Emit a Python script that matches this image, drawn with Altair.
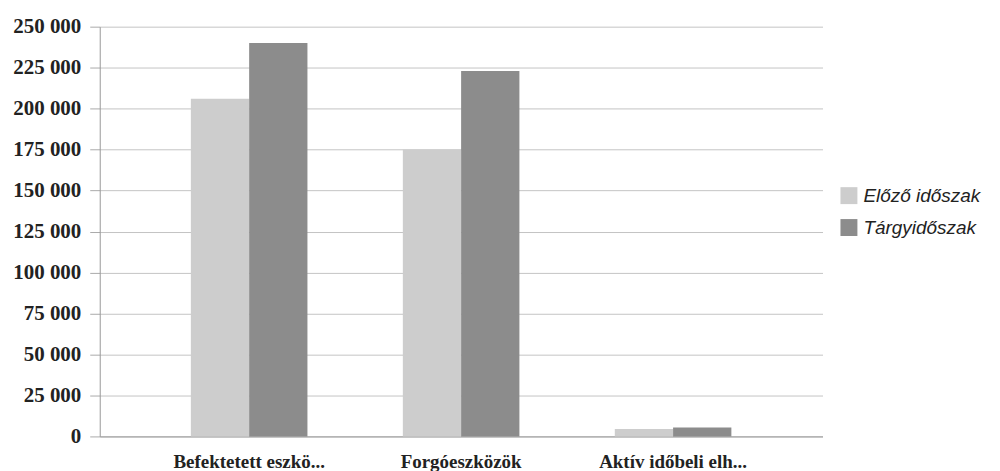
import altair as alt
import pandas as pd

categories = ["Befektetett eszkö...", "Forgóeszközök", "Aktív időbeli elh..."]
series = ["Előző időszak", "Tárgyidőszak"]
elozo = [206000, 175000, 4500]
targy = [240000, 223000, 5500]
y_ticks = [0, 25000, 50000, 75000, 100000, 125000, 150000, 175000, 200000, 225000, 250000]

rows = []
for c, a, b in zip(categories, elozo, targy):
    rows.append({"cat": c, "series": series[0], "value": a})
    rows.append({"cat": c, "series": series[1], "value": b})
df = pd.DataFrame(rows)

chart = alt.Chart(df).mark_bar().encode(
    x=alt.X("cat:N", sort=categories, title=None,
            scale=alt.Scale(paddingInner=0.45, paddingOuter=0.43),
            axis=alt.Axis(labelAngle=0, labelFont="Liberation Serif", labelFontWeight="bold",
                          labelFontSize=19, labelColor="#222", labelPadding=16,
                          domainColor="#999", ticks=False, grid=False)),
    xOffset=alt.XOffset("series:N", sort=series),
    y=alt.Y("value:Q", title=None,
            scale=alt.Scale(domain=[0, 250000], nice=False),
            axis=alt.Axis(values=y_ticks, labelExpr="join(split(format(datum.value, ','), ','), ' ')",
                          labelFont="Liberation Serif", labelFontWeight="bold", labelFontSize=21,
                          labelColor="#222", labelPadding=9, tickSize=10, tickColor="#aaa",
                          domainColor="#999", gridColor="#c4c4c4", gridWidth=1)),
    color=alt.Color("series:N", sort=series, title=None,
                    scale=alt.Scale(domain=series, range=["#cdcdcd", "#8c8c8c"]),
                    legend=alt.Legend(orient="none", legendX=742, legendY=160,
                                      symbolType="square", symbolSize=289, symbolStrokeWidth=0,
                                      labelFont="Liberation Sans", labelFontStyle="italic",
                                      labelFontSize=19, labelColor="#222", rowPadding=12,
                                      labelOffset=5)),
).properties(
    width=725, height=411,
    padding={"left": 92, "top": 18, "right": 170, "bottom": 40},
    autosize=alt.AutoSizeParams(type="none"),
).configure(background="white").configure_view(stroke=None)

chart.save("out.html", embed_options={"renderer": "svg", "actions": False})
